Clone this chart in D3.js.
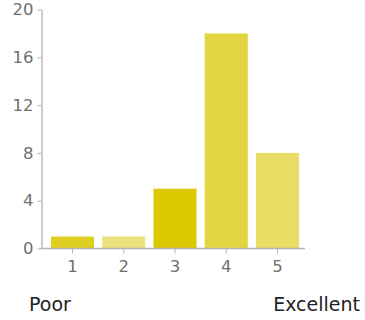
<!DOCTYPE html>
<html><head><meta charset="utf-8">
<script src="https://cdn.jsdelivr.net/npm/d3@7"></script>
<style>body{margin:0;background:#fff;}svg{display:block;}</style>
</head><body>
<script>
const categories = ["1","2","3","4","5"];
const values = [1, 1, 5, 18, 8];
const colors = ["#e0cf20","#ebe17d","#dcc900","#e3d53f","#e8dd65"];
const yTicks = [0,4,8,12,16,20];
const scaleLabels = ["Poor","Excellent"];

const W=365,H=320;
const font="DejaVu Sans, sans-serif";
const svg=d3.select("body").append("svg").attr("width",W).attr("height",H);
const x=d3.scaleBand().domain(categories).range([51,299]).paddingInner(0.16).paddingOuter(0);
const y=d3.scaleLinear().domain([0,20]).range([248.5,9.5]);
const axisColor="#b3b3b3", tickText="#707070";

svg.selectAll("rect.bar").data(values).enter().append("rect")
  .attr("x",(d,i)=>x(categories[i])).attr("width",x.bandwidth())
  .attr("y",d=>y(d)).attr("height",d=>y(0)-y(d))
  .attr("fill",(d,i)=>colors[i]);

const ya=svg.append("g").attr("transform","translate(41.5,0)")
  .call(d3.axisLeft(y).tickValues(yTicks).tickSize(4).tickSizeOuter(0).tickPadding(4));
ya.select(".domain").attr("stroke",axisColor).attr("stroke-width",1.3);
ya.selectAll(".tick line").attr("stroke",axisColor);
ya.selectAll("text").attr("fill",tickText).style("font-family",font).style("font-size","16.5px");

const xa=svg.append("g").attr("transform","translate(0,248.5)")
  .call(d3.axisBottom(x).tickSize(5).tickSizeOuter(0).tickPadding(7));
xa.select(".domain").remove();
xa.append("line").attr("x1",41).attr("x2",305).attr("stroke",axisColor).attr("stroke-width",1.3);
xa.selectAll(".tick line").attr("stroke",axisColor);
xa.selectAll("text").attr("fill",tickText).style("font-family",font).style("font-size","16.5px");

svg.append("text").attr("x",29).attr("y",311).text(scaleLabels[0])
  .attr("fill","#222").style("font-family",font).style("font-size","19px");
svg.append("text").attr("x",360).attr("y",311).attr("text-anchor","end").text(scaleLabels[1])
  .attr("fill","#222").style("font-family",font).style("font-size","19px");
</script>
</body></html>
